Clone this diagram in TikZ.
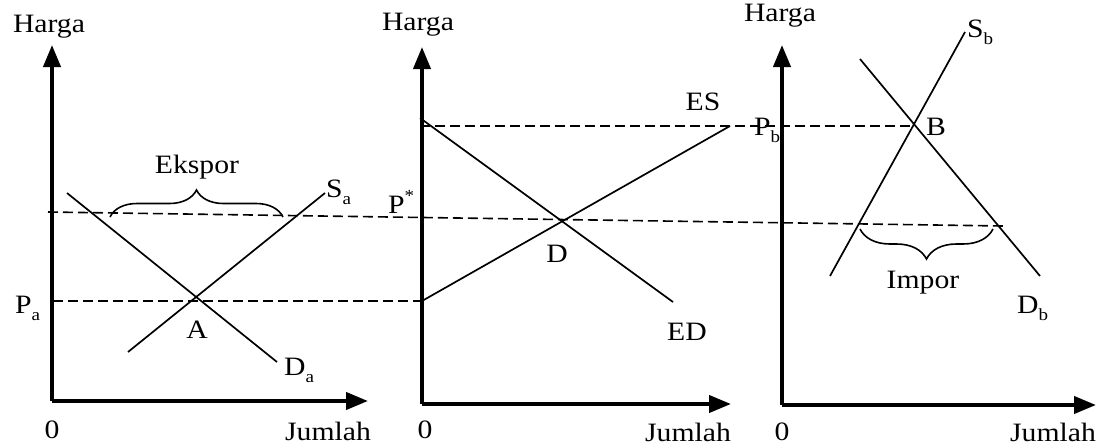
\documentclass[tikz,border=0pt]{standalone}
\usepackage{fontspec}
\setmainfont{Liberation Serif}[FakeStretch=1.12]
\usetikzlibrary{arrows.meta,decorations.pathreplacing}
\newcommand{\lsub}[1]{\raisebox{-0.3em}{\fontsize{17}{17}\selectfont #1}}
\newcommand{\lsup}[1]{\raisebox{0.45em}{\fontsize{17}{17}\selectfont #1}}
\begin{document}
\begin{tikzpicture}[x=1pt,y=-1pt,
  axis/.style={line width=4pt,-{Triangle[length=22pt,width=17pt]}},
  curve/.style={line width=1.7pt},
  guide/.style={line width=1.6pt,dash pattern=on 10pt off 5pt},
  lbl/.style={inner sep=0pt,font=\fontsize{26.5}{26.5}\selectfont},
  brc/.style={line width=1.6pt,decorate}]
\useasboundingbox (0,0) rectangle (1104,445);
% ---------- panel 1 ----------
\coordinate (o1) at (52,401);
\coordinate (y1) at (52,45);
\coordinate (x1) at (368,401);
\draw[axis] (o1) -- (y1);
\draw[axis] (o1) -- (x1);
\coordinate (da1) at (67,193);
\coordinate (da2) at (277,362);
\coordinate (sa1) at (128,352);
\coordinate (sa2) at (325,193);
\draw[curve] (da1) -- (da2);
\draw[curve] (sa1) -- (sa2);
% ---------- panel 2 ----------
\coordinate (o2) at (422,404);
\coordinate (y2) at (422,47);
\coordinate (x2) at (731,404);
\draw[axis] (o2) -- (y2);
\draw[axis] (o2) -- (x2);
\coordinate (ed1) at (420,118);
\coordinate (ed2) at (673,302);
\coordinate (es1) at (422,301);
\coordinate (es2) at (730,126);
\draw[curve] (ed1) -- (ed2);
\draw[curve] (es1) -- (es2);
% ---------- panel 3 ----------
\coordinate (o3) at (782,405);
\coordinate (y3) at (782,45);
\coordinate (x3) at (1096,405);
\draw[axis] (o3) -- (y3);
\draw[axis] (o3) -- (x3);
\coordinate (db1) at (860,59);
\coordinate (db2) at (1040,276);
\coordinate (sb1) at (830,276);
\coordinate (sb2) at (965,32);
\draw[curve] (db1) -- (db2);
\draw[curve] (sb1) -- (sb2);
% ---------- dashed price lines ----------
\coordinate (ps1) at (48,212);
\coordinate (ps2) at (1003,226);
\coordinate (pa1) at (53,301);
\coordinate (pa2) at (420,301);
\coordinate (pb1) at (420,126);
\coordinate (pb2) at (915,126);
\draw[guide] (ps1) -- (ps2);
\draw[guide] (pa1) -- (pa2);
\draw[guide] (pb1) -- (pb2);
% ---------- braces ----------
\coordinate (ek1) at (110,217);
\coordinate (ek2) at (283,217);
\draw[brc,decoration={brace,amplitude=27pt}] (ek1) -- (ek2);
\coordinate (im1) at (860,229);
\coordinate (im2) at (993,229);
\draw[brc,decoration={brace,mirror,amplitude=30pt}] (im1) -- (im2);
% ---------- labels ----------
\node[lbl,anchor=base] (h1) at (49,32) {Harga};
\node[lbl,anchor=base] (h2) at (418,30) {Harga};
\node[lbl,anchor=base] (h3) at (780,21) {Harga};
\node[lbl,anchor=base] (z1) at (52,438) {0};
\node[lbl,anchor=base] (z2) at (425,438) {0};
\node[lbl,anchor=base] (z3) at (782,440) {0};
\node[lbl,anchor=base] (j1) at (328,440) {Jumlah};
\node[lbl,anchor=base] (j2) at (688,441) {Jumlah};
\node[lbl,anchor=base] (j3) at (1053,441) {Jumlah};
\node[lbl,anchor=base west] (lpa) at (15,313) {P\lsub{a}};
\node[lbl,anchor=base west] (lps) at (388,213) {P\lsup{*}};
\node[lbl,anchor=base west] (lpb) at (754,135) {P\lsub{b}};
\node[lbl,anchor=base] (lek) at (197,173) {Ekspor};
\node[lbl,anchor=base] (la) at (197,338) {A};
\node[lbl,anchor=base west] (lsa) at (326,197) {S\lsub{a}};
\node[lbl,anchor=base west] (lda) at (284,375) {D\lsub{a}};
\node[lbl,anchor=base] (les) at (703,110) {ES};
\node[lbl,anchor=base] (ld) at (557,262) {D};
\node[lbl,anchor=base] (led) at (687,340) {ED};
\node[lbl,anchor=base] (lb) at (936,135) {B};
\node[lbl,anchor=base west] (lsb) at (967,37) {S\lsub{b}};
\node[lbl,anchor=base west] (ldb) at (1017,313) {D\lsub{b}};
\node[lbl,anchor=base] (lim) at (923,288) {Impor};
\end{tikzpicture}
\end{document}
